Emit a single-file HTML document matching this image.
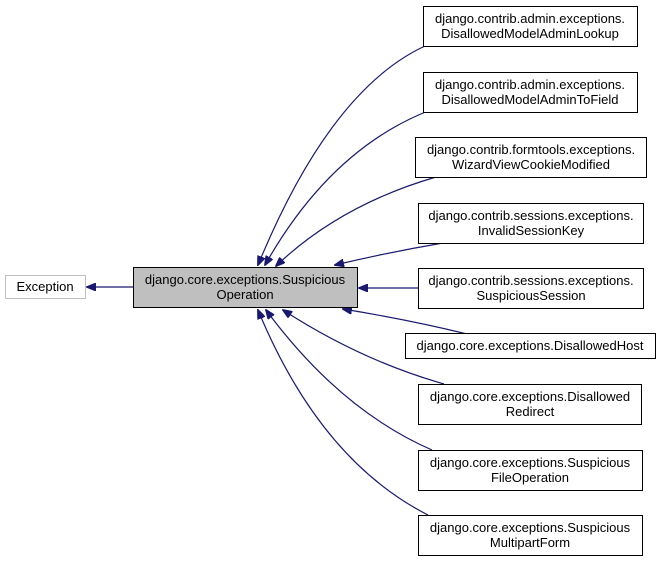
<!DOCTYPE html>
<html><head><meta charset="utf-8"><style>
body{margin:0;background:#fff;width:660px;height:561px;overflow:hidden}
svg text{font-family:"Liberation Sans",Arial,sans-serif;font-size:13px;fill:#000}
</style></head><body>
<svg width="660" height="561" viewBox="0 0 660 561" xmlns="http://www.w3.org/2000/svg">
<defs><marker id="a" markerWidth="10" markerHeight="8" refX="9" refY="4" orient="auto" markerUnits="userSpaceOnUse"><path d="M0,0 L10,4 L0,8 z" fill="#191970" stroke="#191970"/></marker></defs>
<g fill="none" stroke="#191970" stroke-width="1.2" marker-end="url(#a)">
<path d="M133,287 L87,287"/>
<path d="M425,46 Q330,90 258,265"/>
<path d="M428,111 Q330,150 265,265"/>
<path d="M436,177 Q340,205 276,266"/>
<path d="M443,243 Q390,252 335,265"/>
<path d="M418,288 L359,288"/>
<path d="M467,334 Q410,320 343,309"/>
<path d="M444,384 Q360,360 283,310"/>
<path d="M432,450 Q340,410 266,310"/>
<path d="M428,515 Q320,460 258,310"/>
</g>
<g stroke-width="1">
<rect x="5.5" y="275.5" width="80" height="23" fill="#fff" stroke="#bfbfbf"/>
<rect x="133.5" y="267.5" width="224" height="40" fill="#bfbfbf" stroke="#000"/>
<rect x="423.5" y="6.5" width="214" height="40" fill="#fff" stroke="#000"/>
<rect x="423.5" y="72.5" width="214" height="40" fill="#fff" stroke="#000"/>
<rect x="415.5" y="137.5" width="231" height="40" fill="#fff" stroke="#000"/>
<rect x="418.5" y="203.5" width="225" height="40" fill="#fff" stroke="#000"/>
<rect x="418.5" y="268.5" width="225" height="40" fill="#fff" stroke="#000"/>
<rect x="405.5" y="333.5" width="250" height="25" fill="#fff" stroke="#000"/>
<rect x="418.5" y="384.5" width="223" height="40" fill="#fff" stroke="#000"/>
<rect x="418.5" y="450.5" width="224" height="40" fill="#fff" stroke="#000"/>
<rect x="418.5" y="515.5" width="224" height="40" fill="#fff" stroke="#000"/>
</g>
<g text-anchor="middle">
<text x="45" y="291">Exception</text>
<text x="245" y="284">django.core.exceptions.Suspicious</text><text x="245" y="299">Operation</text>
<text x="530" y="23">django.contrib.admin.exceptions.</text><text x="530" y="38">DisallowedModelAdminLookup</text>
<text x="530" y="89">django.contrib.admin.exceptions.</text><text x="530" y="104">DisallowedModelAdminToField</text>
<text x="531" y="154">django.contrib.formtools.exceptions.</text><text x="531" y="169">WizardViewCookieModified</text>
<text x="531" y="220">django.contrib.sessions.exceptions.</text><text x="531" y="235">InvalidSessionKey</text>
<text x="531" y="285">django.contrib.sessions.exceptions.</text><text x="531" y="300">SuspiciousSession</text>
<text x="530" y="350">django.core.exceptions.DisallowedHost</text>
<text x="530" y="401">django.core.exceptions.Disallowed</text><text x="530" y="416">Redirect</text>
<text x="530" y="467">django.core.exceptions.Suspicious</text><text x="530" y="482">FileOperation</text>
<text x="530" y="532">django.core.exceptions.Suspicious</text><text x="530" y="547">MultipartForm</text>
</g>
</svg>
</body></html>
